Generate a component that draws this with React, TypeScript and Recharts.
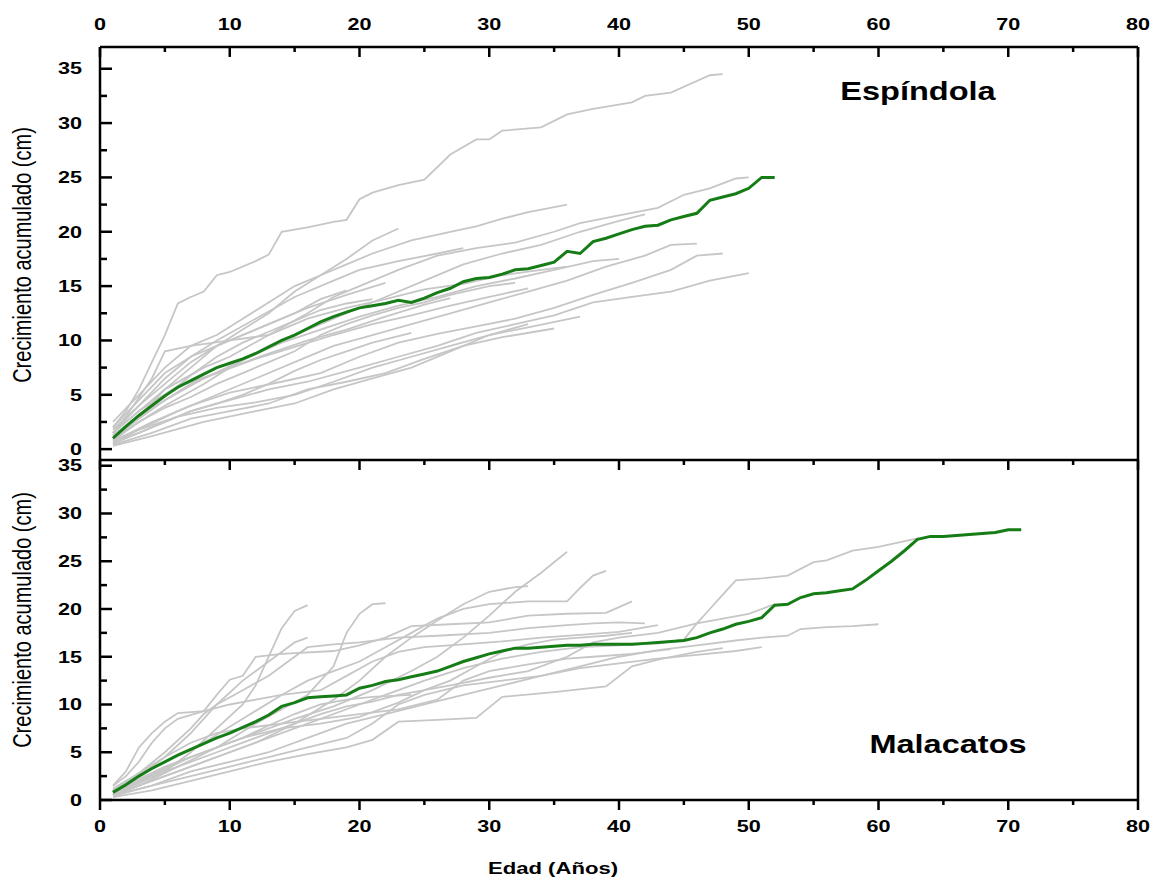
import React from 'react';
import { LineChart, Line, XAxis, YAxis, ReferenceLine } from 'recharts';

type Pt = [number, number];

const FONT = '"Liberation Sans", Arial, sans-serif';
const GRAY = '#c6c6c6';
const GREEN = '#167c16';

const xTicks = [0, 5, 10, 15, 20, 25, 30, 35, 40, 45, 50, 55, 60, 65, 70, 75, 80];
const yTicks = [0, 2.5, 5, 7.5, 10, 12.5, 15, 17.5, 20, 22.5, 25, 27.5, 30, 32.5, 35];

// Espíndola – mean curve
const espMean: Pt[] = [[1,1.0],[2,2.1],[3,3.1],[4,4.0],[5,4.9],[6,5.7],[7,6.3],[8,6.9],[9,7.5],[10,7.9],[11,8.3],[12,8.8],[13,9.4],[14,10.0],[15,10.5],[16,11.1],[17,11.7],[18,12.2],[19,12.6],[20,13.0],[21,13.2],[22,13.4],[23,13.7],[24,13.5],[25,13.9],[26,14.4],[27,14.8],[28,15.4],[29,15.7],[30,15.8],[31,16.1],[32,16.5],[33,16.6],[34,16.9],[35,17.2],[36,18.2],[37,18.0],[38,19.1],[39,19.4],[40,19.8],[41,20.2],[42,20.5],[43,20.6],[44,21.1],[45,21.4],[46,21.7],[47,22.9],[48,23.2],[49,23.5],[50,24.0],[51,25.0],[52,25.0]];

// Espíndola – individual trees
const espA: Pt[] = [[1,2],[2,3.5],[3,5.5],[4,8],[5,10.5],[6,13.4],[7,14],[8,14.5],[9,16],[10,16.3],[12,17.3],[13,17.9],[14,20],[16,20.4],[18,20.9],[19,21.1],[20,23],[21,23.6],[23,24.3],[25,24.8],[27,27.1],[29,28.5],[30,28.5],[31,29.3],[34,29.6],[36,30.8],[38,31.3],[41,31.9],[42,32.5],[44,32.8],[47,34.4],[48,34.5]];
const espB: Pt[] = [[1,1.5],[3,3.5],[5,5.5],[8,7.5],[10,8.5],[13,10.5],[16,12.5],[18,14],[20,15],[23,16.5],[26,17.8],[29,18.5],[32,19],[35,20],[37,20.8],[40,21.5],[43,22.2],[45,23.4],[47,24],[49,24.9],[50,25]];
const espC: Pt[] = [[1,2.5],[3,5],[5,7.5],[7,9.5],[9,10.5],[11,12],[13,13.5],[15,15],[17,16],[19,17],[21,18],[24,19.2],[27,20],[29,20.5],[31,21.2],[33,21.8],[36,22.5]];
const espD: Pt[] = [[1,1],[3,3],[5,5.5],[7,7.5],[9,9.5],[11,11],[13,12.5],[15,14.5],[17,16],[19,17.5],[21,19.2],[23,20.3]];
const espE: Pt[] = [[1,0.8],[3,2.5],[5,4],[8,6],[10,7.5],[13,9.5],[16,11],[19,12.5],[22,14],[25,15.5],[28,17],[31,18],[34,18.8],[37,20],[40,21],[42,21.6]];
const espF: Pt[] = [[1,0.5],[3,1.8],[6,3.5],[9,5],[12,6.5],[15,8],[18,9.5],[21,10.5],[24,11.5],[27,12.5],[30,13.5],[33,14.5],[36,15.5],[39,16.8],[42,17.8],[44,18.8],[46,18.9]];
const espG: Pt[] = [[1,0.7],[4,2.5],[7,4],[10,5.2],[14,6.2],[17,7],[20,8.5],[23,9.8],[26,10.6],[29,11.3],[32,12],[35,13],[38,14.2],[41,15.3],[44,16.5],[46,17.8],[48,18]];
const espH: Pt[] = [[1,0.5],[4,2],[7,3.5],[10,4.5],[13,5.5],[16,6.2],[20,7.5],[23,8.5],[26,9.5],[29,10.7],[32,11.5],[35,12.3],[38,13.5],[41,14],[44,14.5],[47,15.5],[50,16.2]];
const espI: Pt[] = [[1,1.2],[3,3],[5,4.5],[8,6.5],[11,8.2],[14,9.8],[17,11],[20,12.2],[23,13.2],[26,14],[29,15],[32,15.7],[35,16.5],[38,17.3],[40,17.5]];
const espJ: Pt[] = [[1,0.8],[3,1.8],[6,3],[9,3.8],[12,4.3],[15,5],[18,6.2],[21,7.5],[24,8.5],[27,9.5],[30,10.5],[33,11.2],[37,12.2]];
const espK: Pt[] = [[1,0.4],[4,1.5],[7,2.8],[10,3.5],[13,4.2],[16,5.5],[19,6.2],[22,7],[25,8.3],[28,9.5],[31,10.3],[35,11.1]];
const espL: Pt[] = [[1,1.5],[3,3.5],[6,5.8],[9,7],[12,8.3],[15,9.4],[18,10.5],[21,11.5],[24,12.3],[27,13.2],[30,14],[33,14.8]];
const espM: Pt[] = [[1,2],[3,4.5],[5,7],[7,8.5],[10,10],[13,11.5],[16,13],[19,14.2],[22,15.3]];
const espN: Pt[] = [[1,1.8],[3,4],[5,6],[7,8],[9,9.5],[11,10.5],[13,11.5],[15,12.5],[17,13.8],[19,14.6]];
const espO: Pt[] = [[1,1],[3,2.8],[5,4.5],[7,6],[10,7.5],[13,8.8],[16,10],[19,11],[22,12.2],[25,13.3],[27,13.9]];
const espP: Pt[] = [[1,1.5],[3,4],[5,6.5],[7,8.5],[9,10],[12,12],[15,14],[18,15.5],[20,16.5],[23,17.3],[26,18],[28,18.5]];
const espQ: Pt[] = [[1,0.3],[4,1.2],[8,2.5],[12,3.5],[15,4.2],[18,5.5],[21,6.5],[24,7.5],[27,9],[30,10.5],[33,11.5]];
const espR: Pt[] = [[1,1.5],[2,3],[4,6.5],[5,9],[7,9.5],[10,10],[13,10.5],[16,12],[19,13],[22,13.8],[25,14.7],[28,15.2],[31,16],[34,16.5],[36,16.8]];
const espS: Pt[] = [[1,0.6],[3,1.5],[5,2.5],[7,3.5],[9,4.2],[11,5],[13,6],[15,7.2],[17,8.2],[19,9],[21,9.8],[24,10.7]];
const espT: Pt[] = [[1,1.3],[3,3],[5,4.8],[7,6.8],[9,8.5],[11,9.8],[13,10.8],[15,11.8],[17,12.8],[19,13.4],[21,13.8]];
const espU: Pt[] = [[1,1],[3,2.5],[5,3.8],[7,4.8],[9,6],[11,7],[13,8],[15,9],[17,10.5],[19,11.5],[21,12.3],[23,13],[25,13.5],[27,14.2],[30,15],[32,15.3]];

const espGray = [espA, espB, espC, espD, espE, espF, espG, espH, espI, espJ, espK, espL, espM, espN, espO, espP, espQ, espR, espS, espT, espU];

// Malacatos – mean curve
const malMean: Pt[] = [[1,0.8],[2,1.6],[3,2.5],[4,3.3],[5,4.0],[6,4.7],[7,5.3],[8,5.9],[9,6.5],[10,7.0],[11,7.6],[12,8.2],[13,8.9],[14,9.8],[15,10.2],[16,10.7],[17,10.8],[18,10.9],[19,11.0],[20,11.7],[21,12.0],[22,12.4],[23,12.6],[24,12.9],[25,13.2],[26,13.5],[27,14.0],[28,14.5],[29,14.9],[30,15.3],[31,15.6],[32,15.9],[33,15.9],[34,16.0],[35,16.1],[36,16.2],[37,16.2],[38,16.3],[39,16.3],[40,16.3],[41,16.3],[42,16.4],[43,16.5],[44,16.6],[45,16.7],[46,17.0],[47,17.5],[48,17.9],[49,18.4],[50,18.7],[51,19.1],[52,20.4],[53,20.5],[54,21.2],[55,21.6],[56,21.7],[57,21.9],[58,22.1],[59,23.0],[60,24.0],[61,25.0],[62,26.1],[63,27.3],[64,27.6],[65,27.6],[66,27.7],[67,27.8],[68,27.9],[69,28.0],[70,28.3],[71,28.3]];

// Malacatos – individual trees
const malA: Pt[] = [[1,0.5],[3,1.8],[5,3],[7,5],[9,7.5],[11,10],[12,12],[13,15],[14,18],[15,19.8],[16,20.4]];
const malB: Pt[] = [[1,1],[3,2.5],[5,4.5],[7,7],[9,10],[11,12.5],[13,14.5],[14,15.5],[15,16.5],[16,17]];
const malC: Pt[] = [[1,0.5],[3,1.5],[6,3.5],[9,5.5],[12,8],[14,9.5],[16,11],[18,14],[19,17.5],[20,19.5],[21,20.5],[22,20.6]];
const malD: Pt[] = [[1,1.5],[2,3],[3,5.5],[4,7],[5,8.2],[6,9.1],[8,9.3],[9,11],[10,12.6],[11,13],[12,15],[14,15.3],[18,15.6],[20,16.2],[22,17],[24,18.2],[27,18.4],[30,18.6],[33,19.3],[36,19.5],[39,19.6],[40,20.2],[41,20.8]];
const malE: Pt[] = [[1,0.8],[3,2],[6,4],[9,5.5],[12,7],[15,8.5],[18,9.8],[21,11.5],[24,13.5],[26,15],[28,17],[30,19.3],[32,21.8],[34,23.8],[36,26]];
const malF: Pt[] = [[1,1],[3,2.5],[5,4],[8,6],[11,8.5],[14,11],[16,12.5],[18,13.5],[20,14.5],[22,16],[24,17.5],[26,19],[28,20],[30,20.5],[33,20.8],[36,20.8],[37,22.2],[38,23.5],[39,24]];
const malG: Pt[] = [[1,0.5],[3,1.5],[6,3],[9,4.5],[12,6],[15,8],[18,10.5],[20,12.5],[22,15],[24,17],[26,18.8],[28,20.5],[30,21.8],[32,22.3],[33,22.4]];
const malH: Pt[] = [[1,0.6],[4,2],[7,3.5],[10,5],[13,6.5],[16,8],[19,9.5],[22,11],[25,12.5],[28,13.8],[31,14.8],[34,15.5],[37,16],[40,16.2],[43,16.4],[45,16.8],[46,18.5],[47,20],[48,21.5],[49,23],[51,23.2],[53,23.5],[55,24.9],[56,25.1],[58,26.1],[60,26.5],[63,27.4]];
const malI: Pt[] = [[1,0.4],[4,1.5],[7,3],[10,4],[13,5],[16,6.5],[19,8],[22,9],[25,10],[28,11],[31,12],[34,13],[37,14],[40,15],[43,15.7],[46,16.2],[49,16.7],[51,17],[53,17.2],[54,17.9],[56,18.1],[58,18.2],[60,18.4]];
const malJ: Pt[] = [[1,0.5],[4,1.5],[7,2.5],[10,3.5],[13,4.5],[16,5.5],[19,6.5],[21,8],[23,10],[25,11],[28,12],[31,12.5],[34,13],[37,13.8],[40,14.3],[43,14.8],[46,15.2],[49,15.6],[51,16]];
const malK: Pt[] = [[1,0.3],[4,1],[7,2],[10,3],[13,4],[16,4.8],[19,5.5],[21,6.3],[23,8.2],[26,8.4],[29,8.6],[31,10.8],[35,11.3],[39,11.9],[41,14],[43,14.7],[46,15.5],[48,15.9]];
const malL: Pt[] = [[1,1.2],[3,2.8],[5,4.5],[7,6],[9,7],[11,7.5],[14,8],[17,8.5],[20,9],[23,9.5],[26,10.5],[28,12.5],[30,13.5],[33,14.2],[36,14.8],[38,15],[41,15.3],[44,15.8]];
const malM: Pt[] = [[1,0.8],[3,2.2],[5,3.5],[8,5],[11,6.5],[14,7.5],[17,8],[20,8.7],[23,10.2],[25,11.5],[27,12],[30,12.8],[33,13.5],[36,15],[38,16.5],[40,17],[43,17.5],[46,18.5],[48,19],[50,19.5],[52,20.5]];
const malN: Pt[] = [[1,1.5],[2,2.5],[3,4],[4,6],[5,7.5],[6,8.5],[8,9.3],[10,10],[12,10.5],[14,11],[17,11.5],[19,13],[21,14.5],[23,15.5],[25,16],[28,16.3],[31,16.6],[34,17],[37,17.3],[40,17.6],[43,18.3]];
const malO: Pt[] = [[1,0.7],[3,1.8],[5,3],[7,4],[9,5],[11,6],[13,7],[15,8],[17,9],[19,9.8],[21,10.3],[23,11],[25,11.5],[27,12.5],[29,14],[31,15.5],[33,16.3],[35,16.8],[37,17],[39,17.2],[41,17.5]];
const malP: Pt[] = [[1,0.9],[3,2],[5,3.2],[7,4.5],[9,5.5],[11,6.5],[13,7.8],[15,9],[17,10],[19,10.5],[21,10.8],[24,11]];
const malQ: Pt[] = [[1,1],[3,2.8],[5,5],[7,7.5],[8,9],[9,10],[11,11.5],[13,13],[15,15],[16,16],[18,16.3],[20,16.5],[23,17],[26,17.2],[30,17.5],[33,18],[36,18.3],[38,18.5],[40,18.6],[42,18.5]];

const malGray = [malA, malB, malC, malD, malE, malF, malG, malH, malI, malJ, malK, malL, malM, malN, malO, malP, malQ];

const toRows = (pts: Pt[]) => pts.map(([x, y]) => ({ x, y }));

const axisLine = { stroke: '#000', strokeWidth: 2.5 };

function LeftTick(props: any) {
  const { x, y, payload } = props;
  const major = payload.value % 5 === 0;
  return (
    <g>
      <line x1={x} y1={y} x2={x + (major ? 12 : 7)} y2={y} stroke="#000" strokeWidth={2.5} />
      {major && (
        <text transform={`translate(${x - 18},${y}) scale(1.35,1)`} textAnchor="end" dy="0.36em"
          fontSize={16} fontWeight="bold" fontFamily={FONT} fill="#000">
          {payload.value}
        </text>
      )}
    </g>
  );
}

// ticks hanging down from a top edge, labels optional
function TopTick(props: any) {
  const { x, y, payload, showLabel } = props;
  const major = payload.value % 10 === 0;
  return (
    <g>
      <line x1={x} y1={y} x2={x} y2={y + (major ? 10 : 5)} stroke="#000" strokeWidth={2.5} />
      {showLabel && major && (
        <text transform={`translate(${x},${y - 17}) scale(1.35,1)`} textAnchor="middle"
          fontSize={16} fontWeight="bold" fontFamily={FONT} fill="#000">
          {payload.value}
        </text>
      )}
    </g>
  );
}

function BottomTick(props: any) {
  const { x, y, payload } = props;
  const major = payload.value % 10 === 0;
  return (
    <g>
      <line x1={x} y1={y} x2={x} y2={y + (major ? 10 : 5)} stroke="#000" strokeWidth={2.5} />
      {major && (
        <text transform={`translate(${x},${y + 32}) scale(1.35,1)`} textAnchor="middle"
          fontSize={16} fontWeight="bold" fontFamily={FONT} fill="#000">
          {payload.value}
        </text>
      )}
    </g>
  );
}

const yTitle: React.CSSProperties = {
  position: 'absolute',
  left: 22,
  transform: 'translate(-50%, -50%) rotate(-90deg) scale(1, 1.3)',
  whiteSpace: 'nowrap',
  fontFamily: FONT,
  fontSize: 20,
  lineHeight: 1,
  color: '#000',
};

const panelTitle: React.CSSProperties = {
  position: 'absolute',
  transform: 'translate(-50%, -50%) scaleX(1.3)',
  whiteSpace: 'nowrap',
  fontFamily: FONT,
  fontSize: 25,
  fontWeight: 'bold',
  lineHeight: 1,
  color: '#000',
};

export default function App() {
  return (
    <div style={{ position: 'absolute', left: 0, top: 0, width: 1154, height: 880, background: '#fff' }}>
      {/* Espíndola panel */}
      <div style={{ position: 'absolute', left: 0, top: 0 }}>
        <LineChart width={1154} height={462} margin={{ top: 17, right: 16, left: 40, bottom: 2 }}>
          <XAxis xAxisId="top" orientation="top" type="number" dataKey="x" domain={[0, 80]}
            ticks={xTicks} interval={0} height={30} tickSize={0} tickMargin={0} tickLine={false}
            axisLine={axisLine} tick={<TopTick showLabel />} allowDuplicatedCategory={false} />
          <YAxis type="number" domain={[-1, 37]} ticks={yTicks} interval={0} width={60}
            tickSize={0} tickMargin={0} tickLine={false} axisLine={axisLine} tick={<LeftTick />} />
          <ReferenceLine xAxisId="top" x={80} stroke="#000" strokeWidth={2.5} />
          {espGray.map((s, i) => (
            <Line key={i} xAxisId="top" data={toRows(s)} dataKey="y" type="linear" stroke={GRAY}
              strokeWidth={1.8} dot={false} isAnimationActive={false} />
          ))}
          <Line xAxisId="top" data={toRows(espMean)} dataKey="y" type="linear" stroke={GREEN}
            strokeWidth={3} dot={false} isAnimationActive={false} />
        </LineChart>
      </div>

      {/* Malacatos panel */}
      <div style={{ position: 'absolute', left: 0, top: 440 }}>
        <LineChart width={1154} height={440} margin={{ top: 10, right: 16, left: 40, bottom: 20 }}>
          <XAxis xAxisId="top" orientation="top" type="number" dataKey="x" domain={[0, 80]}
            ticks={xTicks} interval={0} height={10} tickSize={0} tickMargin={0} tickLine={false}
            axisLine={axisLine} tick={<TopTick />} allowDataOverflow />
          <XAxis type="number" dataKey="x" domain={[0, 80]} ticks={xTicks} interval={0} height={60}
            tickSize={0} tickMargin={0} tickLine={false} axisLine={axisLine} tick={<BottomTick />} />
          <YAxis type="number" domain={[0, 35.6]} ticks={yTicks} interval={0} width={60}
            tickSize={0} tickMargin={0} tickLine={false} axisLine={axisLine} tick={<LeftTick />} />
          <ReferenceLine x={80} stroke="#000" strokeWidth={2.5} />
          {malGray.map((s, i) => (
            <Line key={i} data={toRows(s)} dataKey="y" type="linear" stroke={GRAY}
              strokeWidth={1.8} dot={false} isAnimationActive={false} />
          ))}
          <Line data={toRows(malMean)} dataKey="y" type="linear" stroke={GREEN}
            strokeWidth={3} dot={false} isAnimationActive={false} />
        </LineChart>
      </div>

      <div style={{ ...yTitle, top: 255 }}>Crecimiento acumulado (cm)</div>
      <div style={{ ...yTitle, top: 620 }}>Crecimiento acumulado (cm)</div>
      <div style={{ ...panelTitle, left: 918, top: 91 }}>Espíndola</div>
      <div style={{ ...panelTitle, left: 948, top: 744 }}>Malacatos</div>
      <div style={{ ...panelTitle, left: 553, top: 868, fontSize: 17 }}>Edad (Años)</div>
    </div>
  );
}
